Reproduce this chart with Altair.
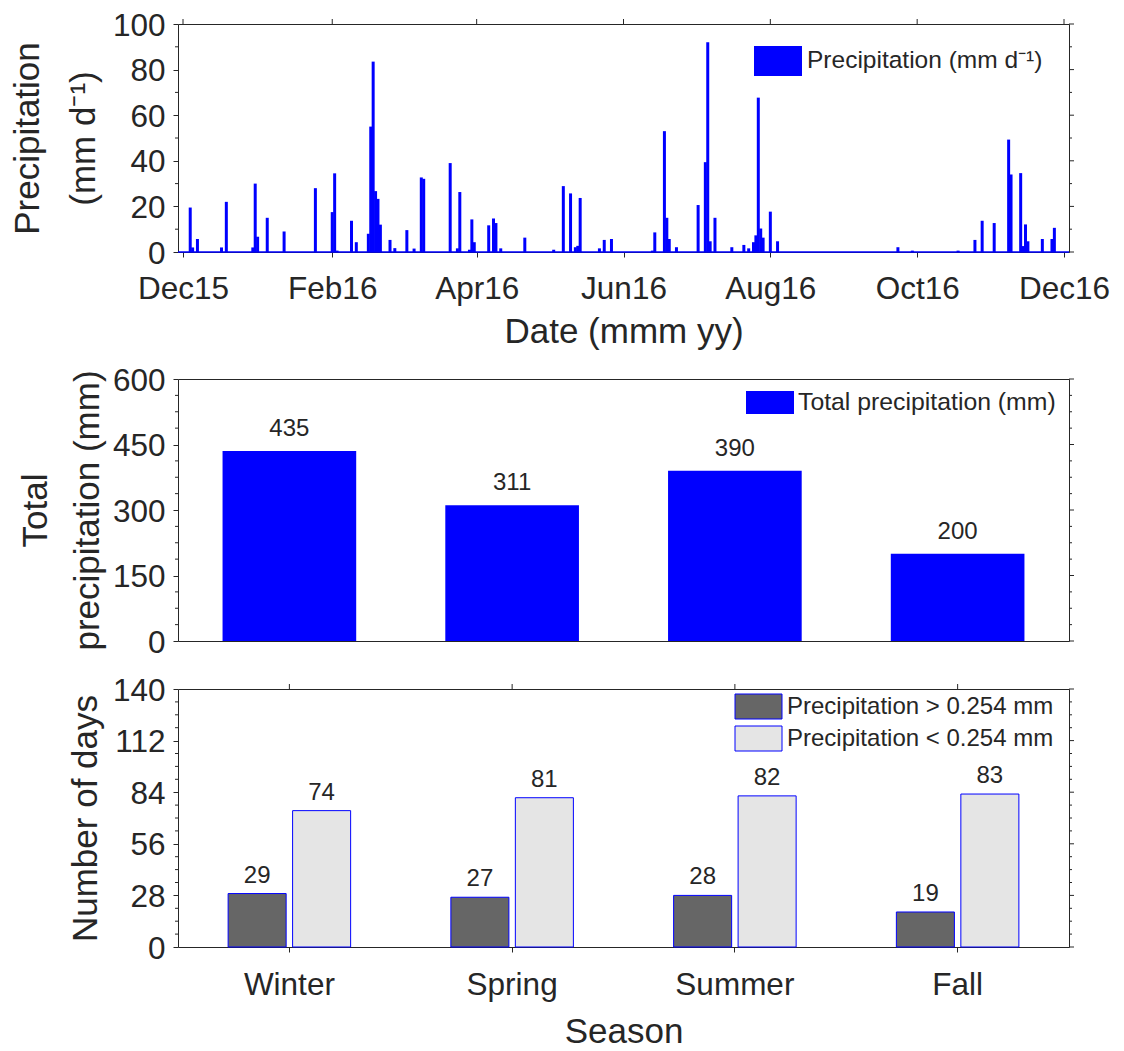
import altair as alt
import pandas as pd

FONT = "Liberation Sans"
INK = "#262626"
BLUE = "#0000FF"

# ---------------- data ----------------
rain_dates = [
    "2015-12-04", "2015-12-05", "2015-12-07", "2015-12-17", "2015-12-19", "2015-12-30", "2015-12-31",
    "2016-01-01", "2016-01-05", "2016-01-12", "2016-01-25",
    "2016-02-01", "2016-02-02", "2016-02-03", "2016-02-09", "2016-02-11", "2016-02-16", "2016-02-17",
    "2016-02-18", "2016-02-19", "2016-02-20", "2016-02-21", "2016-02-25", "2016-02-27",
    "2016-03-03", "2016-03-06", "2016-03-09", "2016-03-10", "2016-03-21", "2016-03-24", "2016-03-25",
    "2016-03-29", "2016-03-30", "2016-03-31",
    "2016-04-06", "2016-04-08", "2016-04-09", "2016-04-11", "2016-04-21",
    "2016-05-03", "2016-05-07", "2016-05-10", "2016-05-12", "2016-05-13", "2016-05-14", "2016-05-22",
    "2016-05-24", "2016-05-27",
    "2016-06-13", "2016-06-14", "2016-06-18", "2016-06-19", "2016-06-20", "2016-06-23",
    "2016-07-02", "2016-07-05", "2016-07-06", "2016-07-07", "2016-07-09", "2016-07-16", "2016-07-21",
    "2016-07-23", "2016-07-25", "2016-07-26", "2016-07-27", "2016-07-28", "2016-07-29",
    "2016-08-01", "2016-08-04",
    "2016-09-23", "2016-09-29",
    "2016-10-18", "2016-10-25", "2016-10-28",
    "2016-11-02", "2016-11-08", "2016-11-09", "2016-11-13", "2016-11-14", "2016-11-15", "2016-11-16",
    "2016-11-22", "2016-11-26", "2016-11-27",
]
rain_mm = [
    19.5, 2.0, 5.7, 2.0, 22.0, 2.0, 30.0,
    6.7, 15.0, 9.0, 28.0,
    17.5, 34.5, 0.6, 13.7, 4.3, 8.0, 55.0,
    83.5, 26.7, 23.3, 12.0, 5.3, 1.7,
    9.6, 1.5, 32.7, 32.1, 39.0, 1.6, 26.3,
    1.0, 14.3, 4.3,
    11.7, 14.7, 12.7, 1.6, 6.3,
    1.0, 28.9, 25.7, 2.1, 2.7, 23.7, 1.6,
    5.3, 5.7,
    0.6, 8.6, 53.0, 15.0, 5.7, 2.1,
    20.6, 39.4, 92.0, 4.7, 15.0, 2.1, 3.1,
    1.6, 4.3, 7.3, 67.7, 10.3, 6.3,
    17.7, 4.7,
    2.1, 0.6,
    0.6, 5.3, 13.7,
    12.7, 49.3, 34.0, 34.6, 2.6, 12.1, 4.7,
    5.7, 5.7, 10.6,
]
month_ticks = ["2015-12-01", "2016-02-01", "2016-04-01", "2016-06-01",
               "2016-08-01", "2016-10-01", "2016-12-01"]

seasons = ["Winter", "Spring", "Summer", "Fall"]
season_total_mm = [435, 311, 390, 200]
wet_days = [29, 27, 28, 19]
dry_days = [74, 81, 82, 83]
wet_label = "Precipitation > 0.254 mm"
dry_label = "Precipitation < 0.254 mm"

top_major = [0, 20, 40, 60, 80, 100]
top_minor = [10, 30, 50, 70, 90]
mid_major = [0, 150, 300, 450, 600]
mid_minor = [37.5, 75, 112.5, 187.5, 225, 262.5, 337.5, 375, 412.5, 487.5, 525, 562.5]
bot_major = [0, 28, 56, 84, 112, 140]
bot_minor = [7, 14, 21, 35, 42, 49, 63, 70, 77, 91, 98, 105, 119, 126, 133]

# ---------------- layout constants ----------------
W = 891
H_TOP, H_MID, H_BOT = 228, 262, 258
MAJ, MIN = 5, 3
LBL = 31.5


def one_row():
    return pd.DataFrame({"k": [0]})


def side_ticks(values, scale, axis, length, side):
    df = pd.DataFrame({"v": values})
    if side == "left":
        x1, x2 = -length, 0
    else:
        x1, x2 = W, W + length
    return alt.Chart(df).mark_rule(color=INK, strokeWidth=1).encode(
        y=alt.Y("v:Q", scale=scale, axis=axis),
        x=alt.value(x1), x2=alt.value(x2),
    )


def y_axis(values, title, pad, line_h=52):
    return alt.Axis(values=values, title=title, tickSize=MAJ, labelPadding=8, labelOffset=2,
                    titlePadding=pad, titleLineHeight=line_h)


def legend_text(label, x, y, size=24):
    return alt.Chart(pd.DataFrame({"t": [label]})).mark_text(
        align="left", baseline="middle", fontSize=size, font=FONT, color=INK
    ).encode(x=alt.value(x), y=alt.value(y), text="t:N")


# ---------------- top panel ----------------
daily = pd.DataFrame({"date": pd.to_datetime(rain_dates), "mm": rain_mm})
tick_ts = pd.to_datetime(month_ticks)
tick_dt = [alt.DateTime(year=int(d.year), month=int(d.month), date=int(d.day)) for d in tick_ts]
xs_top = alt.Scale(domain=[tick_dt[0], tick_dt[-1]])
ys_top = alt.Scale(domain=[0, 100], nice=False)
xa_top = alt.Axis(values=tick_dt, format="%b%y", title="Date (mmm yy)",
                  tickSize=MAJ, labelPadding=16, titlePadding=10)
ya_top = y_axis(top_major, ["Precipitation", "(mm d⁻¹)"], 11, 56)

top_bars = alt.Chart(daily).mark_bar(size=3, color=BLUE).encode(
    x=alt.X("date:T", scale=xs_top, axis=xa_top),
    y=alt.Y("mm:Q", scale=ys_top, axis=ya_top),
)
top_base = alt.Chart(one_row()).mark_rule(color=BLUE, strokeWidth=1.5).encode(
    y=alt.YDatum(0, scale=ys_top, axis=ya_top)
)
top_xticks = alt.Chart(pd.DataFrame({"date": tick_ts})).mark_rule(color=INK).encode(
    x=alt.X("date:T", scale=xs_top, axis=xa_top), y=alt.value(0), y2=alt.value(-MAJ)
)
top_leg_box = alt.Chart(one_row()).mark_rect(color=BLUE).encode(
    x=alt.value(576), x2=alt.value(624), y=alt.value(22), y2=alt.value(52)
)

top = alt.layer(
    top_bars, top_base, top_xticks,
    side_ticks(top_minor, ys_top, ya_top, MIN, "left"),
    side_ticks(top_major, ys_top, ya_top, MAJ, "right"),
    side_ticks(top_minor, ys_top, ya_top, MIN, "right"),
    top_leg_box, legend_text("Precipitation (mm d⁻¹)", 629, 37, 24.5),
).properties(width=W, height=H_TOP)

# ---------------- middle panel ----------------
totals = pd.DataFrame({"season": seasons, "total": season_total_mm})
xs_mid = alt.Scale(paddingInner=0.4, paddingOuter=0.2)
ys_mid = alt.Scale(domain=[0, 600], nice=False)
ya_mid = y_axis(mid_major, ["Total", "precipitation (mm)"], 7)
xm = alt.X("season:N", sort=seasons, scale=xs_mid, axis=None)

mid_bars = alt.Chart(totals).mark_bar(color=BLUE).encode(
    x=xm, y=alt.Y("total:Q", scale=ys_mid, axis=ya_mid),
)
mid_lbl = alt.Chart(totals).mark_text(baseline="bottom", dy=-10, fontSize=24, font=FONT, color=INK).encode(
    x=xm, y=alt.Y("total:Q", scale=ys_mid, axis=ya_mid), text="total:Q"
)
mid_leg_box = alt.Chart(one_row()).mark_rect(color=BLUE).encode(
    x=alt.value(568), x2=alt.value(616), y=alt.value(12), y2=alt.value(35)
)
mid_spacer = alt.Chart(one_row()).mark_rule(opacity=0).encode(
    x=alt.value(0), y=alt.value(H_MID), y2=alt.value(H_MID + 18)
)

mid = alt.layer(
    mid_bars, mid_lbl,
    side_ticks(mid_minor, ys_mid, ya_mid, MIN, "left"),
    side_ticks(mid_major, ys_mid, ya_mid, MAJ, "right"),
    side_ticks(mid_minor, ys_mid, ya_mid, MIN, "right"),
    mid_leg_box, legend_text("Total precipitation (mm)", 620, 23.5, 24.8), mid_spacer,
).properties(width=W, height=H_MID)

# ---------------- bottom panel ----------------
counts = pd.DataFrame({
    "season": seasons + seasons,
    "kind": [wet_label] * len(seasons) + [dry_label] * len(seasons),
    "days": wet_days + dry_days,
})
xs_bot = alt.Scale(paddingInner=0.45, paddingOuter=0.225)
ys_bot = alt.Scale(domain=[0, 140], nice=False)
xa_bot = alt.Axis(title="Season", labelAngle=0, tickSize=MAJ, labelPadding=17, titlePadding=14)
ya_bot = y_axis(bot_major, "Number of days", 9)
xb = alt.X("season:N", sort=seasons, scale=xs_bot, axis=xa_bot)
xo = alt.XOffset("kind:N", sort=[wet_label, dry_label], scale=alt.Scale(paddingInner=0.1, paddingOuter=0))

bot_bars = alt.Chart(counts).mark_bar(stroke=BLUE, strokeWidth=1).encode(
    x=xb, xOffset=xo,
    y=alt.Y("days:Q", scale=ys_bot, axis=ya_bot),
    fill=alt.Fill("kind:N", scale=alt.Scale(domain=[wet_label, dry_label], range=["#666666", "#E5E5E5"]),
                  legend=None),
)
bot_lbl = alt.Chart(counts).mark_text(baseline="bottom", dy=-6, fontSize=24, font=FONT, color=INK).encode(
    x=xb, xOffset=xo, y=alt.Y("days:Q", scale=ys_bot, axis=ya_bot), text="days:Q"
)
bot_xticks = alt.Chart(pd.DataFrame({"season": seasons})).mark_rule(color=INK).encode(
    x=xb, y=alt.value(0), y2=alt.value(-MAJ)
)
bot_leg_box1 = alt.Chart(one_row()).mark_rect(fill="#666666", stroke=BLUE, strokeWidth=1).encode(
    x=alt.value(557), x2=alt.value(604), y=alt.value(5), y2=alt.value(30)
)
bot_leg_box2 = alt.Chart(one_row()).mark_rect(fill="#E5E5E5", stroke=BLUE, strokeWidth=1).encode(
    x=alt.value(557), x2=alt.value(604), y=alt.value(37), y2=alt.value(62)
)

bot = alt.layer(
    bot_bars, bot_lbl, bot_xticks,
    side_ticks(bot_minor, ys_bot, ya_bot, MIN, "left"),
    side_ticks(bot_major, ys_bot, ya_bot, MAJ, "right"),
    side_ticks(bot_minor, ys_bot, ya_bot, MIN, "right"),
    bot_leg_box1, bot_leg_box2,
    legend_text(wet_label, 609, 17.5), legend_text(dry_label, 609, 49.5),
).properties(width=W, height=H_BOT)

chart = alt.vconcat(top, mid, bot, spacing=14).properties(
    padding={"left": 1, "right": 5, "top": 1, "bottom": 0}
).configure_view(
    stroke=INK, strokeWidth=1
).configure_axis(
    labelFont=FONT, titleFont=FONT, labelColor=INK, titleColor=INK,
    titleFontWeight="normal", domain=False, grid=False, tickColor=INK, tickWidth=1,
    labelFontSize=LBL, titleFontSize=35,
)

chart.save("out.html", embed_options={"renderer": "svg", "actions": False})
